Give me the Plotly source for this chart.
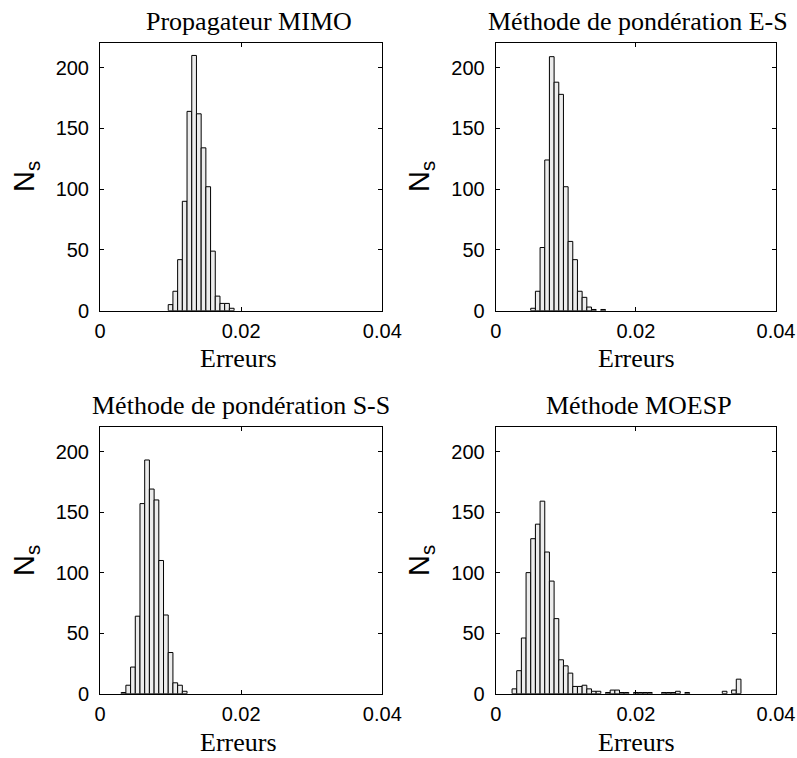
import plotly.graph_objects as go

W, H = 797, 758

# Histogram bin width (errors axis 0..0.04 split in 60 bins)
BIN_W = 0.04 / 60
N_BINS = 61
bin_centers = [round(k * BIN_W, 6) for k in range(N_BINS)]

# Counts per bin (index k -> bin centered at k*BIN_W)
mimo_counts = [0] * 15 + [5, 16, 42, 90, 164, 210, 162, 134, 102, 49, 12, 6, 6, 2]
es_counts = [0] * 8 + [2, 16, 52, 124, 209, 188, 178, 102, 57, 42, 16, 11, 3, 1, 0, 1]
ss_counts = [0] * 5 + [1, 7, 22, 64, 157, 193, 169, 160, 110, 65, 34, 9, 7, 2]
moesp_counts = [0] * 4 + [4, 19, 46, 100, 128, 140, 159, 117, 93, 62, 28, 23, 17,
                          6, 6, 7, 4, 2, 2, 0, 1, 3, 3, 1, 1, 0, 1, 1, 1, 1,
                          0, 0, 1, 1, 1, 2, 0, 1, 0, 0, 0, 0, 0, 0, 0, 2, 0, 3, 12]

titles = ["Propagateur MIMO", "Méthode de pondération E-S",
          "Méthode de pondération S-S", "Méthode MOESP"]
series = [mimo_counts, es_counts, ss_counts, moesp_counts]

x_ticks = [0, 0.02, 0.04]
x_ticktext = ["0", "0.02", "0.04"]
y_ticks = [0, 50, 100, 150, 200]

# panel pixel boxes (left, right, top, bottom)
boxes = [(100, 382.3, 43.3, 310.7), (495.7, 776, 43.3, 310.7),
         (100, 382.3, 427.3, 693.7), (495.7, 776, 427.3, 693.7)]
title_pos = [(249, 21), (638, 21), (241, 405), (639, 405)]
xlabel_pos = [(238, 358), (636, 358), (238, 742), (636, 742)]
ylabel_pos = [(26, 177), (421, 177), (26, 561), (421, 561)]

SERIF = "Liberation Serif"
SANS = "Liberation Sans"

fig = go.Figure()
annotations = []
layout = {}
for i, (counts, title) in enumerate(zip(series, titles)):
    n = i + 1
    xs = [bin_centers[k] for k in range(len(counts)) if counts[k] > 0]
    ys = [c for c in counts if c > 0]
    fig.add_trace(go.Bar(
        x=xs, y=ys, width=BIN_W,
        marker=dict(color="rgb(236,236,236)", line=dict(color="black", width=1)),
        xaxis=f"x{n}", yaxis=f"y{n}", showlegend=False,
    ))
    l, r, t, b = boxes[i]
    xa = dict(domain=[l / W, r / W], range=[0, 0.04], tickvals=x_ticks,
              ticktext=x_ticktext, ticks="inside", ticklen=4, tickcolor="black",
              showline=True, linecolor="black", linewidth=1, mirror="ticks",
              showgrid=False, zeroline=False, anchor=f"y{n}", automargin=False,
              tickfont=dict(family=SANS, size=20, color="black"),
              ticklabelstandoff=2, fixedrange=True)
    ya = dict(domain=[1 - b / H, 1 - t / H], range=[0, 220], tickvals=y_ticks,
              ticks="inside", ticklen=4, tickcolor="black",
              showline=True, linecolor="black", linewidth=1, mirror="ticks",
              showgrid=False, zeroline=False, anchor=f"x{n}", automargin=False,
              tickfont=dict(family=SANS, size=20, color="black"),
              ticklabelstandoff=6, fixedrange=True)
    layout["xaxis" if n == 1 else f"xaxis{n}"] = xa
    layout["yaxis" if n == 1 else f"yaxis{n}"] = ya

    tx, ty = title_pos[i]
    annotations.append(dict(text=title, x=tx / W, y=1 - ty / H, xref="paper", yref="paper",
                            xanchor="center", yanchor="middle", showarrow=False,
                            font=dict(family=SERIF, size=26, color="black")))
    lx, ly = xlabel_pos[i]
    annotations.append(dict(text="Erreurs", x=lx / W, y=1 - ly / H, xref="paper", yref="paper",
                            xanchor="center", yanchor="middle", showarrow=False,
                            font=dict(family=SERIF, size=26, color="black")))
    nx, ny = ylabel_pos[i]
    annotations.append(dict(text="N<sub>s</sub>", x=nx / W, y=1 - ny / H, xref="paper", yref="paper",
                            xanchor="center", yanchor="middle", showarrow=False, textangle=-90,
                            font=dict(family=SANS, size=29, color="black")))

fig.update_layout(width=W, height=H, margin=dict(l=0, r=0, t=0, b=0),
                  paper_bgcolor="white", plot_bgcolor="white", bargap=0,
                  hovermode=False, annotations=annotations, **layout)

fig.write_html("out.html", config={"displayModeBar": False, "staticPlot": True},
               post_script="document.body.style.margin='0';document.body.style.overflow='hidden';")
